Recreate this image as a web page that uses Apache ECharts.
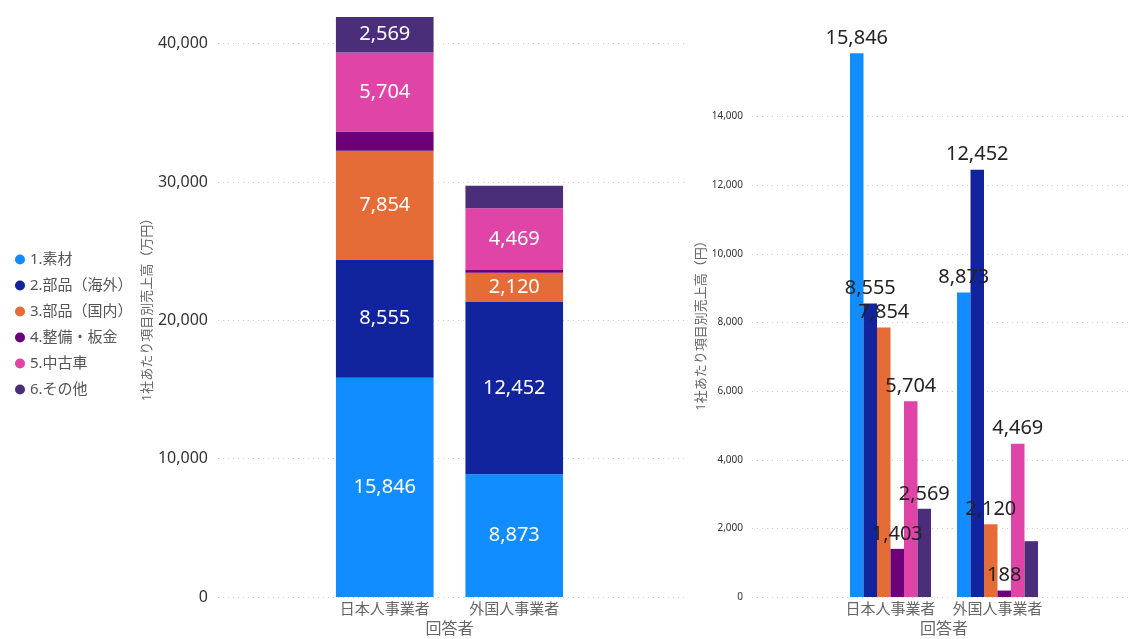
<!DOCTYPE html>
<html><head><meta charset="utf-8">
<script src="https://cdn.jsdelivr.net/npm/echarts@6/dist/echarts.min.js"></script>
<style>html,body{margin:0;padding:0;background:#fff}#c{width:1132px;height:639px}</style>
</head><body><div id="c"></div>
<script>
const categories = ['日本人事業者', '外国人事業者'];
const seriesNames = ['1.素材', '2.部品（海外）', '3.部品（国内）', '4.整備・板金', '5.中古車', '6.その他'];
const v1 = [15846, 8873];
const v2 = [8555, 12452];
const v3 = [7854, 2120];
const v4 = [1403, 188];
const v5 = [5704, 4469];
const v6 = [2569, 1627];
const leftTicks = [0, 10000, 20000, 30000, 40000];
const rightTicks = [0, 2000, 4000, 6000, 8000, 10000, 12000, 14000];
const colors = ['#118DFF', '#12239E', '#E66C37', '#6B007B', '#E044A7', '#4B2E79'];
const values = [v1, v2, v3, v4, v5, v6];
const leftLabelMin = 2000;            // stacked labels shown only when segment fits
const rightHiddenLabels = [[5, 1]];   // [series, category] labels dropped in the clustered chart

const FONT = "'Segoe UI','Noto Sans','Noto Sans CJK JP',sans-serif";
const fmt = v => Number(v).toLocaleString('en-US');
const split = {show: true, lineStyle: {color: '#d0d0d0', type: [1, 4], width: 1}, showMaxLine: false};

const series = [];
values.forEach((arr, i) => {
  series.push({
    name: seriesNames[i], type: 'bar', stack: 'total', xAxisIndex: 1, yAxisIndex: 1,
    barCategoryGap: '24.6%', itemStyle: {color: colors[i]},
    label: {show: true, position: 'inside', color: '#fff', fontSize: 20, fontFamily: FONT,
      formatter: p => p.value >= leftLabelMin ? fmt(p.value) : ''},
    data: arr.slice()
  });
});
values.forEach((arr, i) => {
  series.push({
    name: seriesNames[i], type: 'bar', xAxisIndex: 3, yAxisIndex: 3,
    barGap: '0%', barCategoryGap: '24.3%', itemStyle: {color: colors[i]},
    label: {show: true, position: 'top', distance: 5, color: '#252423', fontSize: 20, fontFamily: FONT,
      formatter: p => fmt(p.value)},
    data: arr.map((v, j) => rightHiddenLabels.some(h => h[0] === i && h[1] === j)
      ? {value: v, label: {show: false}} : v)
  });
});

const gridBase = {top: 16, bottom: 42, outerBoundsMode: 'none', containLabel: false};
const xCat = {
  type: 'category', data: categories,
  axisLine: {show: false}, axisTick: {show: false},
  axisLabel: {color: '#666', fontSize: 15, margin: 5, interval: 0, fontFamily: FONT},
  name: '回答者', nameLocation: 'middle', nameGap: 24,
  nameTextStyle: {color: '#666', fontSize: 16, fontFamily: FONT}
};
const chart = echarts.init(document.getElementById('c'));
chart.setOption({
  animation: false,
  textStyle: {fontFamily: FONT},
  legend: {
    orient: 'vertical', left: 10, top: 247, icon: 'circle', itemWidth: 10, itemHeight: 10, itemGap: 11,
    textStyle: {fontSize: 15, color: '#555', fontFamily: FONT}, data: seriesNames
  },
  grid: [
    Object.assign({}, gridBase, {left: 218, right: 444}),
    Object.assign({}, gridBase, {left: 320, width: 259}),
    Object.assign({}, gridBase, {left: 752, right: 2, top: 48}),
    Object.assign({}, gridBase, {left: 837, width: 214, top: 48})
  ],
  xAxis: [
    {type: 'category', gridIndex: 0, data: [''], show: false},
    Object.assign({gridIndex: 1}, xCat),
    {type: 'category', gridIndex: 2, data: [''], show: false},
    Object.assign({gridIndex: 3}, xCat)
  ],
  yAxis: [
    {type: 'value', gridIndex: 0, min: leftTicks[0], max: 42000, interval: leftTicks[1] - leftTicks[0],
      axisLine: {show: false}, axisTick: {show: false}, splitLine: split,
      axisLabel: {color: '#333', fontSize: 16, margin: 10, formatter: fmt, showMaxLabel: false, fontFamily: FONT},
      name: '1社あたり項目別売上高（万円）', nameLocation: 'middle', nameGap: 60,
      nameTextStyle: {color: '#666', fontSize: 13, fontFamily: FONT}},
    {type: 'value', gridIndex: 1, min: 0, max: 42000, show: false, splitLine: {show: false}},
    {type: 'value', gridIndex: 2, min: rightTicks[0], max: 16000, interval: rightTicks[1] - rightTicks[0],
      axisLine: {show: false}, axisTick: {show: false}, splitLine: split,
      axisLabel: {color: '#333', fontSize: 10, margin: 9, formatter: fmt, showMaxLabel: false, fontFamily: FONT},
      name: '1社あたり項目別売上高（円）', nameLocation: 'middle', nameGap: 41,
      nameTextStyle: {color: '#666', fontSize: 13, fontFamily: FONT}},
    {type: 'value', gridIndex: 3, min: 0, max: 16000, show: false, splitLine: {show: false}}
  ],
  series: series
});
</script></body></html>
